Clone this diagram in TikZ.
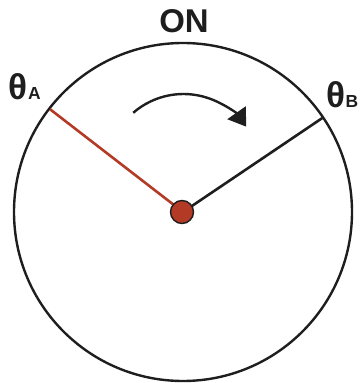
\documentclass[tikz,border=0pt]{standalone}
\usepackage{fontspec}
\setmainfont{Liberation Sans}
\usetikzlibrary{arrows.meta,calc}
\definecolor{dk}{HTML}{1E1E1E}
\definecolor{rd}{HTML}{B33A24}
\tikzset{
  lbl/.style={text=dk, inner sep=0pt},
  hand/.style={line width=2.6pt},
}
\newcommand{\thetalbl}[1]{\resizebox{19pt}{26pt}{\bfseries θ}\hspace{0.5pt}\resizebox{!}{12pt}{\bfseries #1}}
\begin{document}
\begin{tikzpicture}[x=1pt,y=1pt]
\useasboundingbox (0,0) rectangle (360,383);
\coordinate (c) at (183,171);
\draw[dk, line width=2.4pt] (c) circle (169);
\coordinate (pa) at ($(c)+(142.3:168)$);
\coordinate (pb) at ($(c)+(34:168)$);
\draw[hand, rd] (c) -- (pa);
\draw[hand, dk] (c) -- (pb);
\node[circle, fill=rd, draw=dk, line width=1.4pt, minimum size=23pt, inner sep=0pt] (dot) at (182,171) {};
\node[lbl, anchor=base] (on) at (184,350) {\resizebox{!}{23pt}{\bfseries ON}};
\node[lbl, anchor=base west] (ta) at (8.5,283) {\thetalbl{A}};
\node[lbl, anchor=base west] (tb) at (326,275) {\thetalbl{B}};
\coordinate (ac) at (183.5,212.4);
\coordinate (as) at ($(ac)+(131:76.6)$);
\draw[dk, line width=2.4pt, -{Triangle[length=17pt,width=22pt]}] (as) arc[start angle=131, end angle=35, radius=76.6];
\end{tikzpicture}
\end{document}
